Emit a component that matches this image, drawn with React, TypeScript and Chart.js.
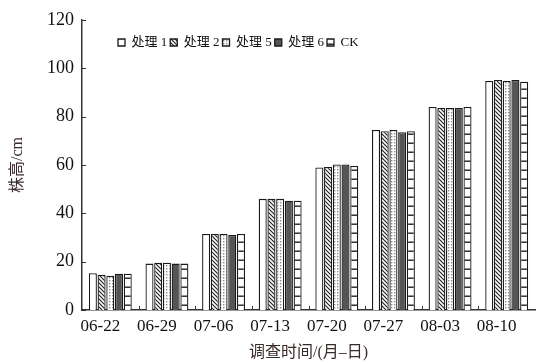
import React, { useEffect, useRef } from "react";
import { Chart, registerables } from "chart.js";

Chart.register(...registerables);

const categories = ["06-22", "06-29", "07-06", "07-13", "07-20", "07-27", "08-03", "08-10"];
const seriesNames = ["处理 1", "处理 2", "处理 5", "处理 6", "CK"];
const t1 = [15.2, 19.2, 31.5, 46.0, 59.0, 74.5, 84.0, 94.8];
const t2 = [14.6, 19.6, 31.5, 46.0, 59.2, 74.0, 83.6, 95.2];
const t5 = [14.2, 19.6, 31.5, 46.0, 60.2, 74.5, 83.6, 94.8];
const t6 = [15.0, 19.2, 31.0, 45.2, 60.2, 73.6, 83.6, 95.2];
const ck = [15.0, 19.2, 31.5, 45.2, 59.6, 74.0, 84.0, 94.5];
const yTicks = [0, 20, 40, 60, 80, 100, 120];

const SERIF = "'Liberation Serif', 'DejaVu Serif', 'Noto Sans CJK SC', serif";

function makePattern(kind: string): CanvasPattern | string {
  const c = document.createElement("canvas");
  const ctx = c.getContext("2d")!;
  if (kind === "white") return "#ffffff";
  if (kind === "dark") return "#555555";
  if (kind === "hatch") {
    c.width = 4; c.height = 4;
    ctx.fillStyle = "#ffffff"; ctx.fillRect(0, 0, 4, 4);
    ctx.strokeStyle = "#222"; ctx.lineWidth = 1.2;
    ctx.beginPath();
    ctx.moveTo(-1, -1); ctx.lineTo(5, 5);
    ctx.moveTo(-1, 3); ctx.lineTo(1, 5);
    ctx.moveTo(3, -1); ctx.lineTo(5, 1);
    ctx.stroke();
  } else if (kind === "dots") {
    c.width = 3; c.height = 3;
    ctx.fillStyle = "#ffffff"; ctx.fillRect(0, 0, 3, 3);
    ctx.fillStyle = "#8a8a8a"; ctx.fillRect(1, 1, 1.4, 1.4);
  } else if (kind === "rungs") {
    c.width = 8; c.height = 9;
    ctx.fillStyle = "#ffffff"; ctx.fillRect(0, 0, 8, 9);
    ctx.fillStyle = "#222"; ctx.fillRect(0, 7.5, 8, 1.4);
  }
  return ctx.createPattern(c, "repeat")!;
}

export default function App() {
  const ref = useRef<HTMLCanvasElement>(null);
  useEffect(() => {
    if (!ref.current) return;
    const kinds = ["white", "hatch", "dots", "dark", "rungs"];
    const all = [t1, t2, t5, t6, ck];
    const datasets = all.map((d, i) => ({
      label: seriesNames[i],
      data: d,
      backgroundColor: makePattern(kinds[i]) as any,
      borderColor: "#1a1a1a",
      borderWidth: 1.3,
      categoryPercentage: 0.77,
      barPercentage: 0.92,
    }));

    const tickPlugin = {
      id: "innerTicks",
      beforeLayout(chart: any) {
        const lg = chart.legend;
        if (lg && !lg.__patched) {
          const orig = lg.fit;
          lg.fit = function () {
            orig.call(this);
            this.height = 0;
          };
          lg.__patched = true;
        }
      },
      afterLayout(chart: any) {
        const lg = chart.legend;
        if (lg) {
          lg.left = 115;
          lg.right = 540;
          lg.top = 33;
          lg.bottom = 55;
          lg.width = lg.right - lg.left;
          lg.height = lg.bottom - lg.top;
        }
      },
      afterDraw(chart: any) {
        const ctx = chart.ctx;
        const y = chart.scales.y;
        const x = chart.scales.x;
        const area = chart.chartArea;
        ctx.save();
        ctx.strokeStyle = "#333";
        ctx.lineWidth = 1;
        ctx.beginPath();
        yTicks.forEach((v) => {
          const py = Math.round(y.getPixelForValue(v)) + 0.5;
          ctx.moveTo(area.left, py);
          ctx.lineTo(area.left + 4, py);
        });
        const n = categories.length;
        for (let i = 1; i < n; i++) {
          const px = Math.round((x.getPixelForValue(i - 1) + x.getPixelForValue(i)) / 2) + 0.5;
          ctx.moveTo(px, area.bottom);
          ctx.lineTo(px, area.bottom - 4);
        }
        ctx.stroke();
        ctx.restore();
      },
    };

    const chart = new Chart(ref.current, {
      type: "bar",
      data: { labels: categories, datasets },
      plugins: [tickPlugin],
      options: {
        animation: false,
        responsive: false,
        layout: { padding: { top: 20, right: 18, left: 0, bottom: 0 } },
        plugins: {
          tooltip: { enabled: false },
          legend: {
            position: "top",
            align: "start",
            labels: {
              boxWidth: 7,
              boxHeight: 7,
              padding: 3,
              color: "#111",
              font: { family: SERIF, size: 13 },
            },
          },
        },
        scales: {
          x: {
            grid: { display: false, drawTicks: false },
            border: { display: true, color: "#333", width: 1.5 },
            ticks: {
              color: "#111",
              font: { family: SERIF, size: 17 },
              padding: 6,
              labelOffset: -10,
              maxRotation: 0,
            },
            title: {
              display: true,
              text: "调查时间/(月–日)",
              color: "#3a2a2a",
              font: { family: SERIF, size: 16 },
              padding: { top: 2, bottom: 2 },
            },
            afterFit: (s: any) => { s.height = 54; },
          },
          y: {
            min: 0,
            max: 120,
            afterBuildTicks: (s: any) => { s.ticks = yTicks.map((v) => ({ value: v })); },
            grid: { display: false, drawTicks: false },
            border: { display: true, color: "#333", width: 1.5 },
            ticks: {
              color: "#111",
              font: { family: SERIF, size: 18 },
              padding: 8,
            },
            title: {
              display: true,
              text: "株高/cm",
              color: "#3a2a2a",
              font: { family: SERIF, size: 16 },
              padding: { top: 8, bottom: 4 },
            },
            afterFit: (s: any) => { s.width = 82; },
          },
        },
      },
    });
    return () => chart.destroy();
  }, []);

  return (
    <div style={{ position: "absolute", left: 0, top: 0, width: 553, height: 364, background: "#fff" }}>
      <canvas ref={ref} width={553} height={364} style={{ width: 553, height: 364 }} />
    </div>
  );
}
